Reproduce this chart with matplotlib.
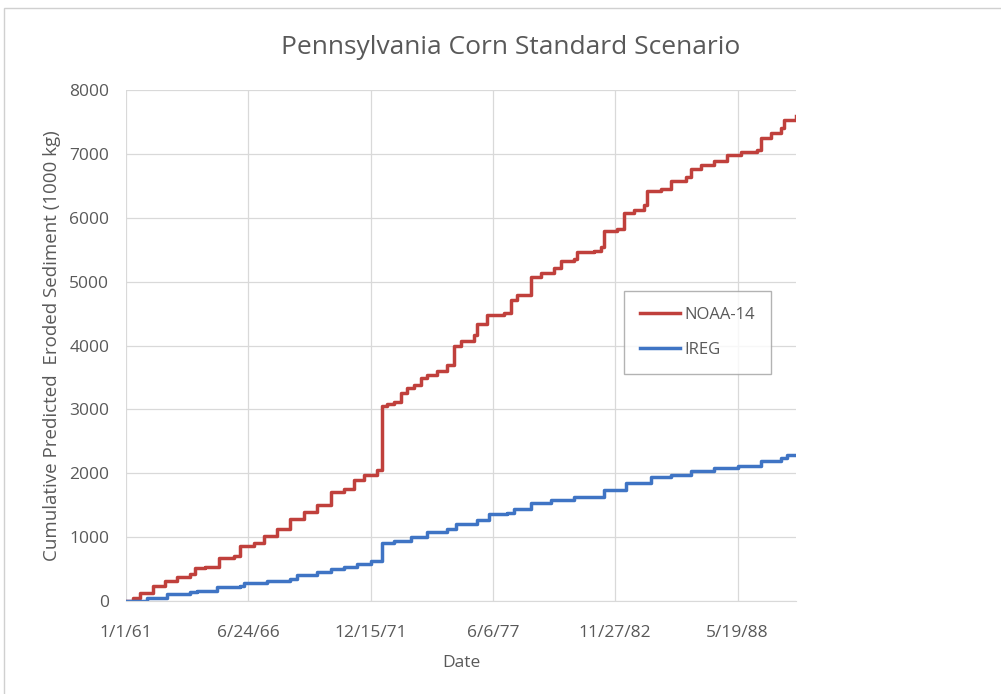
import datetime as dt
import matplotlib
matplotlib.use('Agg')
import matplotlib.pyplot as plt
from matplotlib.patches import Rectangle

start = dt.datetime(1961, 1, 1)

# step points: days since 1/1/61 and cumulative sediment (1000 kg)
noaa_days = [0, 120, 229, 448, 639, 831, 1049, 1131, 1295, 1514, 1759, 1869, 2087, 2251,
             2470, 2688, 2907, 3125, 3344, 3563, 3727, 3890, 4109, 4180, 4272, 4381, 4490,
             4600, 4708, 4817, 4926, 5090, 5253, 5362, 5471, 5690, 5744, 5907, 6180, 6289,
             6398, 6561, 6616, 6779, 6997, 7106, 7324, 7379, 7651, 7760, 7815, 8033, 8142,
             8305, 8469, 8523, 8741, 8905, 9150, 9232, 9395, 9613, 9831, 10049, 10322,
             10376, 10540, 10703, 10758, 10948]
noaa_vals = [0, 50, 130, 240, 320, 380, 430, 510, 540, 670, 700, 860, 910, 1020,
             1130, 1290, 1400, 1510, 1700, 1750, 1890, 1980, 2050, 3050, 3085, 3110, 3250,
             3330, 3380, 3490, 3545, 3600, 3700, 4000, 4080, 4160, 4340, 4480, 4510, 4720,
             4790, 4800, 5080, 5130, 5210, 5330, 5350, 5460, 5480, 5540, 5800, 5830, 6070,
             6125, 6200, 6420, 6460, 6580, 6640, 6770, 6830, 6890, 6990, 7040, 7070,
             7250, 7330, 7410, 7540, 7600]

ireg_days = [0, 339, 667, 1049, 1158, 1486, 1869, 1923, 2306, 2688, 2798, 3125, 3344,
             3563, 3781, 4000, 4100, 4180, 4381, 4654, 4926, 5253, 5390, 5744, 5935, 6235,
             6344, 6616, 6943, 7324, 7815, 8169, 8578, 8905, 9232, 9613, 10000, 10376,
             10703, 10813, 10948]
ireg_vals = [0, 50, 110, 135, 160, 215, 240, 285, 320, 350, 415, 450, 500,
             540, 575, 620, 630, 915, 940, 1005, 1075, 1130, 1210, 1265, 1365, 1385,
             1440, 1535, 1580, 1635, 1735, 1850, 1940, 1980, 2040, 2090, 2120, 2190,
             2245, 2280, 2280]

tick_labels = ['1/1/61', '6/24/66', '12/15/71', '6/6/77', '11/27/82', '5/19/88']
tick_days = [0, 2000, 4000, 6000, 8000, 10000]

plt.rcParams['font.family'] = ['Open Sans', 'DejaVu Sans']
grey = '#595959'

fig = plt.figure(figsize=(10.01, 6.94), dpi=100)
fig.patches.append(Rectangle((0.004, -0.01), 1.1, 0.998, transform=fig.transFigure,
                             fill=False, edgecolor='#d0d0d0', linewidth=1.0))
ax = fig.add_axes([0.1259, 0.134, 0.6693, 0.736])

noaa_dates = [start + dt.timedelta(days=d) for d in noaa_days]
ireg_dates = [start + dt.timedelta(days=d) for d in ireg_days]

ax.plot(noaa_dates, noaa_vals, drawstyle='steps-post', color='#c0403c', linewidth=2.5,
        label='NOAA-14')
ax.plot(ireg_dates, ireg_vals, drawstyle='steps-post', color='#3f74c4', linewidth=2.5,
        label='IREG')

ax.set_xlim(start, start + dt.timedelta(days=10956))
ax.set_ylim(0, 8000)
ax.set_yticks(range(0, 8001, 1000))
ax.set_xticks([start + dt.timedelta(days=d) for d in tick_days])
ax.set_xticklabels(tick_labels)

ax.grid(True, color='#d9d9d9', linewidth=0.9)
ax.set_axisbelow(True)
for s in ['top', 'right', 'left']:
    ax.spines[s].set_visible(False)
ax.spines['bottom'].set_color('#d9d9d9')
ax.tick_params(length=0, labelsize=12.5, colors=grey)
ax.tick_params(axis='x', pad=17)
ax.tick_params(axis='y', pad=12)

# title sits right of the plot centre, as in the original chart
fig.text(0.510, 0.932, 'Pennsylvania Corn Standard Scenario', fontsize=19,
         color=grey, ha='center', va='center')
ax.set_xlabel('Date', fontsize=12.5, color=grey, labelpad=10)
ax.set_ylabel('Cumulative Predicted  Eroded Sediment (1000 kg)', fontsize=13.5,
              color=grey, labelpad=6)

leg = ax.legend(loc='upper left', bbox_to_anchor=(0.743, 0.607), fontsize=12,
                frameon=True, fancybox=False, edgecolor='#a0a0a0', handlelength=2.4,
                labelspacing=1.15, borderpad=0.95, handletextpad=0.3, borderaxespad=0)
for t in leg.get_texts():
    t.set_color(grey)
leg.get_frame().set_linewidth(1.0)

fig.savefig('out.png', dpi=100)
